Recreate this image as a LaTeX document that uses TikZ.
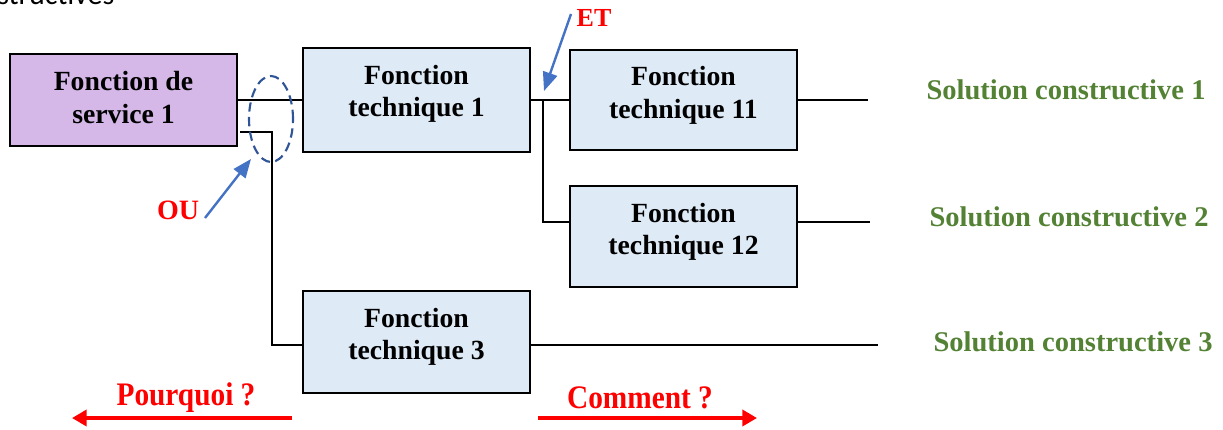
\documentclass[tikz,border=0pt]{standalone}
\usepackage{fontspec}
\setmainfont{Liberation Serif}
\newfontfamily\calib{Carlito}
\usetikzlibrary{arrows.meta}
\definecolor{svcfill}{HTML}{D5B8E8}
\definecolor{techfill}{HTML}{DEEBF7}
\definecolor{ellcol}{HTML}{2F5597}
\definecolor{arrblue}{HTML}{4472C4}
\definecolor{solgreen}{HTML}{548235}
\definecolor{lblred}{HTML}{FF0000}
\tikzset{
  fbox/.style={draw=black, line width=1.5pt, align=center, inner sep=0pt},
  ftext/.style={align=center, inner sep=0pt, font=\fontsize{20.8}{24.3}\selectfont\bfseries},
  link/.style={draw=black, line width=1.3pt},
  sol/.style={text=solgreen, font=\fontsize{21.4}{24}\selectfont\bfseries, inner sep=0pt},
  redlbl/.style={text=lblred, font=\fontsize{21}{24}\selectfont\bfseries, inner sep=0pt},
  bluearr/.style={draw=arrblue, line width=1.8pt, -{Triangle[length=14pt,width=11pt]}},
  redarr/.style={draw=lblred, line width=3.3pt, -{Triangle[length=11pt,width=12pt]}}
}
\begin{document}
\begin{tikzpicture}[x=0.75pt,y=-0.75pt]
\useasboundingbox (0,0) rectangle (1223,429);
% cut-off text at the top
\node[anchor=base west, inner sep=0pt, font=\calib\fontsize{22.5}{24}\selectfont] (cut) at (-3,4) {structives};
% boxes
\node[fbox, fill=svcfill, minimum width=227*0.75pt, minimum height=92*0.75pt] (fs1) at (123.5,100) {};
\node[fbox, fill=techfill, minimum width=227*0.75pt, minimum height=104*0.75pt] (ft1) at (416.5,100) {};
\node[fbox, fill=techfill, minimum width=227*0.75pt, minimum height=100*0.75pt] (ft11) at (683.5,100) {};
\node[fbox, fill=techfill, minimum width=227*0.75pt, minimum height=101*0.75pt] (ft12) at (683.5,236.5) {};
\node[fbox, fill=techfill, minimum width=227*0.75pt, minimum height=102*0.75pt] (ft3) at (416.5,342) {};
% box texts
\node[ftext] (tfs1) at (123.5,97.5) {Fonction de\\service 1};
\node[ftext] (tft1) at (416.5,94) {Fonction\\technique 1};
\node[ftext] (tft11) at (683.5,95.5) {Fonction\\technique 11};
\node[ftext] (tft12) at (683.5,232) {Fonction\\technique 12};
\node[ftext] (tft3) at (416.5,337) {Fonction\\technique 3};
% coordinates
\coordinate (s1a) at (fs1.east |- 0,100);
\coordinate (s1b) at (240,132);
\coordinate (k1) at (272,132);
\coordinate (k2) at (272,345);
\coordinate (j1) at (543,100);
\coordinate (j2) at (543,222);
\coordinate (e11) at (868,100);
\coordinate (e12) at (870,222);
\coordinate (e3) at (878,345);
% links
\draw[link] (s1a) -- (ft1.west |- s1a);
\draw[link] (s1b) -- (k1) -- (k2) -- (ft3.west |- k2);
\draw[link] (ft1.east |- j1) -- (ft11.west |- j1);
\draw[link] (j1) -- (j2) -- (ft12.west |- j2);
\draw[link] (ft11.east |- e11) -- (e11);
\draw[link] (ft12.east |- e12) -- (e12);
\draw[link] (ft3.east |- e3) -- (e3);
% OU ellipse
\draw[draw=ellcol, line width=1.6pt, dash pattern=on 7pt off 4pt] (271,119) ellipse [x radius=22*0.75pt, y radius=43*0.75pt];
% labels
\node[redlbl] (ou) at (178,210) {OU};
\node[redlbl, font=\fontsize{19.5}{22}\selectfont\bfseries] (et) at (594,18) {ET};
\coordinate (ouTip) at (251,159);
\coordinate (ouTail) at (205,218);
\draw[bluearr] (ouTail) -- (ouTip);
\coordinate (etTail) at (571,14);
\coordinate (etTip) at (544,91);
\draw[bluearr] (etTail) -- (etTip);
% solutions
\node[sol] (sc1) at (1066,90) {Solution constructive 1};
\node[sol] (sc2) at (1069,217) {Solution constructive 2};
\node[sol] (sc3) at (1073,342) {Solution constructive 3};
% bottom
\node[redlbl, font=\fontsize{22}{24}\selectfont\bfseries, yscale=1.12] (pq) at (186,398) {Pourquoi ?};
\node[redlbl, font=\fontsize{22}{24}\selectfont\bfseries, yscale=1.12] (cm) at (640,398) {Comment ?};
\coordinate (pqa) at (292,418);
\coordinate (pqb) at (72,418);
\coordinate (cma) at (538,418);
\coordinate (cmb) at (757,418);
\draw[redarr] (pqa) -- (pqb);
\draw[redarr] (cma) -- (cmb);
\end{tikzpicture}
\end{document}
